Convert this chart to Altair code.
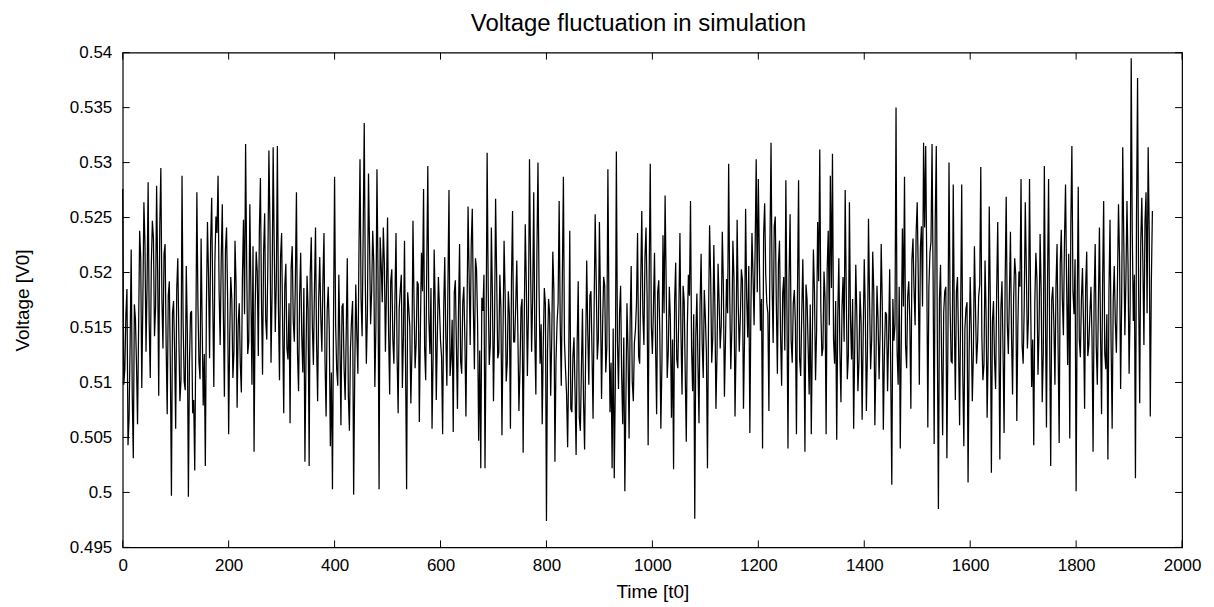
import altair as alt
import pandas as pd

# Samples: "a" samples at t = 0, 4, 8, ...; "b" samples at t = 2, 6, 10, ...
a_0000 = [0.5276, 0.5112, 0.5185, 0.5068, 0.5221, 0.5031, 0.5158, 0.5062, 0.5238, 0.5095,
          0.5264, 0.5128, 0.5282, 0.5104, 0.5247, 0.5142, 0.5279, 0.5088, 0.5295, 0.5131,
          0.5226, 0.5071, 0.5192, 0.4997, 0.5174, 0.5058, 0.5213, 0.5083, 0.5288, 0.5101,
          0.5206, 0.4996, 0.5163, 0.5072, 0.5020, 0.5273, 0.5118, 0.5231, 0.5079, 0.5024,
          0.5246, 0.5122, 0.5268, 0.5096, 0.5251, 0.5288, 0.5134, 0.5262, 0.5087, 0.5241]
a_0200 = [0.5053, 0.5196, 0.5104, 0.5229, 0.5077, 0.5172, 0.5091, 0.5248, 0.5317, 0.5126,
          0.5262, 0.5098, 0.5037, 0.5219, 0.5124, 0.5286, 0.5107, 0.5254, 0.5139, 0.5311,
          0.5118, 0.5314, 0.5146, 0.5315, 0.5102, 0.5236, 0.5072, 0.5208, 0.5121, 0.5063,
          0.5224, 0.5137, 0.5273, 0.5092, 0.5218, 0.5109, 0.5028, 0.5197, 0.5024, 0.5232,
          0.5116, 0.5241, 0.5083, 0.5214, 0.5128, 0.5236, 0.5069, 0.5187, 0.5042, 0.5003]
a_0400 = [0.5287, 0.5112, 0.5198, 0.5061, 0.5172, 0.5084, 0.5213, 0.5056, 0.5157, 0.4998,
          0.5189, 0.5108, 0.5303, 0.5142, 0.5336, 0.5117, 0.5290, 0.5153, 0.5238, 0.5096,
          0.5294, 0.5003, 0.5207, 0.5241, 0.5128, 0.5250, 0.5089, 0.5203, 0.5117, 0.5236,
          0.5072, 0.5184, 0.5095, 0.5229, 0.5003, 0.5168, 0.5081, 0.5247, 0.5113, 0.5192,
          0.5064, 0.5218, 0.5276, 0.5102, 0.5297, 0.5126, 0.5058, 0.5221, 0.5084, 0.5196]
a_0600 = [0.5138, 0.5053, 0.5214, 0.5097, 0.5275, 0.5121, 0.5055, 0.5193, 0.5076, 0.5226,
          0.5108, 0.5187, 0.5069, 0.5260, 0.5134, 0.5258, 0.5112, 0.5203, 0.5047, 0.5022,
          0.5165, 0.5022, 0.5309, 0.5116, 0.5241, 0.5083, 0.5267, 0.5122, 0.5198, 0.5052,
          0.5229, 0.5101, 0.5183, 0.5058, 0.5256, 0.5137, 0.5211, 0.5074, 0.5168, 0.5036,
          0.5244, 0.5106, 0.5303, 0.5128, 0.5273, 0.5089, 0.5300, 0.5117, 0.5062, 0.5186]
a_0800 = [0.4974, 0.5176, 0.5088, 0.5219, 0.5028, 0.5154, 0.5265, 0.5097, 0.5287, 0.5112,
          0.5041, 0.5238, 0.5073, 0.5141, 0.5034, 0.5192, 0.5056, 0.5167, 0.5039, 0.5211,
          0.5098, 0.5183, 0.5067, 0.5253, 0.5121, 0.5246, 0.5085, 0.5196, 0.5109, 0.5294,
          0.5073, 0.5022, 0.5013, 0.5310, 0.5094, 0.5188, 0.5062, 0.5001, 0.5172, 0.5049,
          0.5206, 0.5083, 0.5148, 0.5236, 0.5117, 0.5256, 0.5134, 0.5241, 0.5043, 0.5299]
a_1000 = [0.5126, 0.5218, 0.5071, 0.5193, 0.5058, 0.5234, 0.5270, 0.5104, 0.5187, 0.5068,
          0.5021, 0.5209, 0.5113, 0.5236, 0.5089, 0.5174, 0.5046, 0.5198, 0.5265, 0.5092,
          0.4976, 0.5181, 0.5063, 0.5217, 0.5104, 0.5159, 0.5022, 0.5243, 0.5118, 0.5225,
          0.5076, 0.5208, 0.5131, 0.5237, 0.5087, 0.5194, 0.5299, 0.5112, 0.5229, 0.5069,
          0.5248, 0.5128, 0.5203, 0.5076, 0.5258, 0.5141, 0.5054, 0.5236, 0.5152, 0.5303]
a_1200 = [0.5285, 0.5147, 0.5040, 0.5263, 0.5172, 0.5074, 0.5318, 0.5136, 0.5251, 0.5108,
          0.5229, 0.5097, 0.5196, 0.5284, 0.5040, 0.5253, 0.5118, 0.5184, 0.5053, 0.5284,
          0.5106, 0.5212, 0.5037, 0.5176, 0.5089, 0.5053, 0.5221, 0.5102, 0.5246, 0.5312,
          0.5124, 0.5201, 0.5053, 0.5238, 0.5288, 0.5308, 0.5117, 0.5048, 0.5213, 0.5082,
          0.5196, 0.5275, 0.5103, 0.5264, 0.5121, 0.5058, 0.5207, 0.5092, 0.5183, 0.5066]
a_1400 = [0.5212, 0.5074, 0.5249, 0.5112, 0.5219, 0.5061, 0.5188, 0.5103, 0.5226, 0.5057,
          0.5164, 0.5092, 0.5203, 0.5007, 0.5138, 0.5350, 0.5098, 0.5040, 0.5240, 0.5287,
          0.5113, 0.5192, 0.5076, 0.5231, 0.5152, 0.5264, 0.5098, 0.5242, 0.5318, 0.5315,
          0.5059, 0.5218, 0.5317, 0.5044, 0.5315, 0.4985, 0.5207, 0.5052, 0.5183, 0.5031,
          0.5300, 0.5119, 0.5280, 0.5084, 0.5196, 0.5061, 0.5280, 0.5042, 0.5167, 0.5009]
a_1600 = [0.5196, 0.5083, 0.5224, 0.5117, 0.5178, 0.5296, 0.5102, 0.5211, 0.5068, 0.5260,
          0.5018, 0.5174, 0.5094, 0.5246, 0.5030, 0.5192, 0.5054, 0.5269, 0.5126, 0.5237,
          0.5089, 0.5213, 0.5065, 0.5201, 0.5285, 0.5117, 0.5264, 0.5131, 0.5285, 0.5096,
          0.5043, 0.5218, 0.5107, 0.5235, 0.5082, 0.5297, 0.5059, 0.5285, 0.5024, 0.5187,
          0.5098, 0.5226, 0.5045, 0.5239, 0.5143, 0.5280, 0.5116, 0.5049, 0.5315, 0.5162]
a_1800 = [0.5001, 0.5278, 0.5123, 0.5204, 0.5076, 0.5219, 0.5134, 0.5187, 0.5037, 0.5226,
          0.5098, 0.5241, 0.5071, 0.5265, 0.5112, 0.5030, 0.5248, 0.5058, 0.5206, 0.5127,
          0.5262, 0.5094, 0.5314, 0.5143, 0.5265, 0.5108, 0.5395, 0.5156, 0.5013, 0.5377,
          0.5081, 0.5268, 0.5134, 0.5273, 0.5314, 0.5069, 0.5256]

b_0000 = [0.5098, 0.5162, 0.5043, 0.5137, 0.5089, 0.5171, 0.5117, 0.5149,
          0.5213, 0.5172, 0.5226, 0.5189, 0.5154, 0.5207, 0.5231, 0.5168, 0.5199, 0.5243, 0.5176, 0.5217,
          0.5134, 0.5179, 0.5112, 0.5163, 0.5128, 0.5185, 0.5141, 0.5102,
          0.5156, 0.5093, 0.5147, 0.5118, 0.5165, 0.5084, 0.5139, 0.5171, 0.5103, 0.5152, 0.5126, 0.5168,
          0.5197, 0.5228, 0.5174, 0.5209, 0.5236, 0.5183, 0.5212, 0.5164, 0.5221, 0.5178]
b_0200 = [0.5142, 0.5176, 0.5128, 0.5189, 0.5153, 0.5117, 0.5196, 0.5162, 0.5208, 0.5137, 0.5183, 0.5224,
          0.5167, 0.5201, 0.5238, 0.5174, 0.5219, 0.5156, 0.5207, 0.5243, 0.5182, 0.5226, 0.5191, 0.5168, 0.5214,
          0.5149, 0.5188, 0.5131, 0.5172, 0.5204, 0.5156, 0.5193, 0.5127,
          0.5178, 0.5143, 0.5186, 0.5121, 0.5167, 0.5199, 0.5152, 0.5184, 0.5136, 0.5176, 0.5159, 0.5192,
          0.5118, 0.5165, 0.5147, 0.5109, 0.5158]
b_0400 = [0.5152, 0.5097, 0.5138, 0.5169, 0.5112, 0.5146, 0.5088, 0.5131, 0.5174, 0.5106, 0.5143,
          0.5218, 0.5176, 0.5237, 0.5192, 0.5164, 0.5226, 0.5183, 0.5209, 0.5151, 0.5197, 0.5232, 0.5173,
          0.5208, 0.5186, 0.5145, 0.5192,
          0.5139, 0.5178, 0.5124, 0.5167, 0.5198, 0.5143, 0.5116, 0.5182, 0.5151, 0.5128, 0.5173, 0.5136,
          0.5189, 0.5147,
          0.5183, 0.5131, 0.5204, 0.5158, 0.5186, 0.5122, 0.5171, 0.5143, 0.5168]
b_0600 = [0.5123, 0.5168, 0.5141, 0.5189, 0.5106, 0.5157, 0.5182, 0.5134, 0.5166, 0.5119, 0.5173, 0.5138, 0.5161,
          0.5197, 0.5226, 0.5168, 0.5213, 0.5154, 0.5129, 0.5177, 0.5198, 0.5141, 0.5186,
          0.5134, 0.5179, 0.5152, 0.5196, 0.5127, 0.5168, 0.5143, 0.5181, 0.5118, 0.5162, 0.5194, 0.5137,
          0.5171, 0.5146, 0.5113, 0.5176, 0.5152, 0.5189,
          0.5163, 0.5207, 0.5178, 0.5142, 0.5219, 0.5186, 0.5153, 0.5134, 0.5171]
b_0800 = [0.5128, 0.5163, 0.5141, 0.5184, 0.5119, 0.5172, 0.5153, 0.5196, 0.5137, 0.5089,
          0.5118, 0.5076, 0.5124, 0.5091, 0.5136, 0.5068, 0.5112, 0.5083, 0.5127,
          0.5146, 0.5179, 0.5128, 0.5167, 0.5192, 0.5139, 0.5174, 0.5151, 0.5188, 0.5132, 0.5164,
          0.5118, 0.5149, 0.5097, 0.5138, 0.5163, 0.5106, 0.5141, 0.5084, 0.5129, 0.5157, 0.5101, 0.5136,
          0.5172, 0.5124,
          0.5192, 0.5163, 0.5214, 0.5178, 0.5201, 0.5152]
b_1000 = [0.5168, 0.5134, 0.5182, 0.5146, 0.5117, 0.5163, 0.5191, 0.5128, 0.5157, 0.5139,
          0.5174, 0.5121, 0.5166, 0.5143, 0.5188, 0.5109, 0.5152, 0.5179, 0.5131, 0.5162,
          0.5143, 0.5118, 0.5171, 0.5136, 0.5184, 0.5127, 0.5158, 0.5197, 0.5141, 0.5169,
          0.5126, 0.5174, 0.5152, 0.5189, 0.5138, 0.5163, 0.5181, 0.5147, 0.5196, 0.5134,
          0.5172, 0.5158, 0.5193, 0.5141, 0.5178, 0.5206, 0.5167, 0.5198, 0.5223, 0.5182]
b_1200 = [0.5211, 0.5176, 0.5234, 0.5198, 0.5163, 0.5227, 0.5189, 0.5242, 0.5172, 0.5208,
          0.5143, 0.5181, 0.5129, 0.5167, 0.5194, 0.5138, 0.5172, 0.5153, 0.5186, 0.5121, 0.5163, 0.5148,
          0.5189, 0.5134, 0.5171, 0.5142,
          0.5183, 0.5146, 0.5192, 0.5168, 0.5131, 0.5177, 0.5203, 0.5152, 0.5186, 0.5139, 0.5174, 0.5161,
          0.5128,
          0.5169, 0.5137, 0.5182, 0.5124, 0.5158, 0.5176, 0.5133, 0.5161, 0.5119, 0.5156, 0.5142]
b_1400 = [0.5164, 0.5128, 0.5176, 0.5139, 0.5183, 0.5117, 0.5158, 0.5146, 0.5172, 0.5124,
          0.5162, 0.5141, 0.5109, 0.5176, 0.5152, 0.5128, 0.5187, 0.5143, 0.5169, 0.5134, 0.5178, 0.5156,
          0.5212, 0.5184, 0.5237, 0.5196, 0.5223, 0.5169, 0.5241, 0.5207, 0.5186, 0.5228, 0.5193, 0.5247,
          0.5138, 0.5176, 0.5122, 0.5164, 0.5187, 0.5141, 0.5172, 0.5118, 0.5159, 0.5183, 0.5136, 0.5167,
          0.5108, 0.5149, 0.5173, 0.5126]
b_1600 = [0.5151, 0.5126, 0.5168, 0.5137, 0.5189, 0.5142, 0.5116, 0.5163, 0.5132, 0.5174,
          0.5156, 0.5121, 0.5183, 0.5147, 0.5168, 0.5129, 0.5192, 0.5154, 0.5178, 0.5143,
          0.5176, 0.5198, 0.5152, 0.5187, 0.5134, 0.5169, 0.5203, 0.5158, 0.5181, 0.5139, 0.5172, 0.5194,
          0.5147, 0.5183, 0.5126, 0.5164, 0.5191, 0.5142, 0.5176, 0.5153, 0.5188, 0.5131,
          0.5208, 0.5176, 0.5229, 0.5191, 0.5217, 0.5244, 0.5183, 0.5212]
b_1800 = [0.5168, 0.5139, 0.5176, 0.5152, 0.5187, 0.5124, 0.5163, 0.5141, 0.5178, 0.5133,
          0.5169, 0.5148, 0.5191, 0.5127, 0.5162, 0.5183, 0.5137, 0.5174, 0.5156, 0.5189,
          0.5213, 0.5176, 0.5228, 0.5194, 0.5207, 0.5169,
          0.5236, 0.5198, 0.5251, 0.5182, 0.5227, 0.5209, 0.5246, 0.5163, 0.5238, 0.5191]

x_ticks = [0, 200, 400, 600, 800, 1000, 1200, 1400, 1600, 1800, 2000]
y_ticks = [0.495, 0.5, 0.505, 0.51, 0.515, 0.52, 0.525, 0.53, 0.535, 0.54]

a_all = a_0000 + a_0200 + a_0400 + a_0600 + a_0800 + a_1000 + a_1200 + a_1400 + a_1600 + a_1800
b_all = b_0000 + b_0200 + b_0400 + b_0600 + b_0800 + b_1000 + b_1200 + b_1400 + b_1600 + b_1800

rows = []
for i, va in enumerate(a_all):
    rows.append((4 * i, va))
    if i < len(b_all):
        rows.append((4 * i + 2, b_all[i]))
df = pd.DataFrame(rows, columns=["t", "v"])
dfx = pd.DataFrame({"t": x_ticks})
dfy = pd.DataFrame({"v": y_ticks})

W, H = 1062, 496
TL = 7
FONT = "Liberation Sans"

xscale = alt.Scale(domain=[0, 2000], nice=False, zero=False)
yscale = alt.Scale(domain=[0.495, 0.54], nice=False, zero=False)
xaxis = alt.Axis(values=x_ticks, format="d", title="Time [t0]",
                 ticks=False, domain=False, grid=False, labelFlush=False,
                 labelOverlap=False, labelPadding=10, titlePadding=9)
yaxis = alt.Axis(values=y_ticks, labelExpr="format(datum.value, '.3~f')",
                 title="Voltage [V0]", ticks=False, domain=False, grid=False,
                 labelFlush=False, labelOverlap=False,
                 labelPadding=11, titlePadding=37)

line = alt.Chart(df).mark_line(color="black", strokeWidth=1.25).encode(
    x=alt.X("t:Q", scale=xscale, axis=xaxis),
    y=alt.Y("v:Q", scale=yscale, axis=yaxis),
)

ytick_left = alt.Chart(dfy).mark_rule(color="black", strokeWidth=1).encode(
    y=alt.Y("v:Q", scale=yscale, axis=yaxis), x=alt.value(0), x2=alt.value(TL))
ytick_right = alt.Chart(dfy).mark_rule(color="black", strokeWidth=1).encode(
    y=alt.Y("v:Q", scale=yscale, axis=yaxis), x=alt.value(W - TL), x2=alt.value(W))
xtick_bottom = alt.Chart(dfx).mark_rule(color="black", strokeWidth=1).encode(
    x=alt.X("t:Q", scale=xscale, axis=xaxis), y=alt.value(H - TL), y2=alt.value(H))
xtick_top = alt.Chart(dfx).mark_rule(color="black", strokeWidth=1).encode(
    x=alt.X("t:Q", scale=xscale, axis=xaxis), y=alt.value(0), y2=alt.value(TL))

chart = alt.layer(line, ytick_left, ytick_right, xtick_bottom, xtick_top).properties(
    width=W, height=H,
    background="white",
    title=alt.TitleParams("Voltage fluctuation in simulation", fontSize=24, font=FONT,
                          fontWeight="normal", anchor="middle", dx=-14, offset=8,
                          color="black"),
    autosize=alt.AutoSizeParams(type="none"),
    padding={"left": 115, "top": 44, "right": 24, "bottom": 58},
).configure_view(stroke="black", strokeWidth=1.2).configure_axis(
    labelFont=FONT, titleFont=FONT, labelFontSize=17, titleFontSize=19,
    labelColor="black", titleColor="black", titleFontWeight="normal",
)

chart.save("out.html", embed_options={"renderer": "svg", "actions": False})
